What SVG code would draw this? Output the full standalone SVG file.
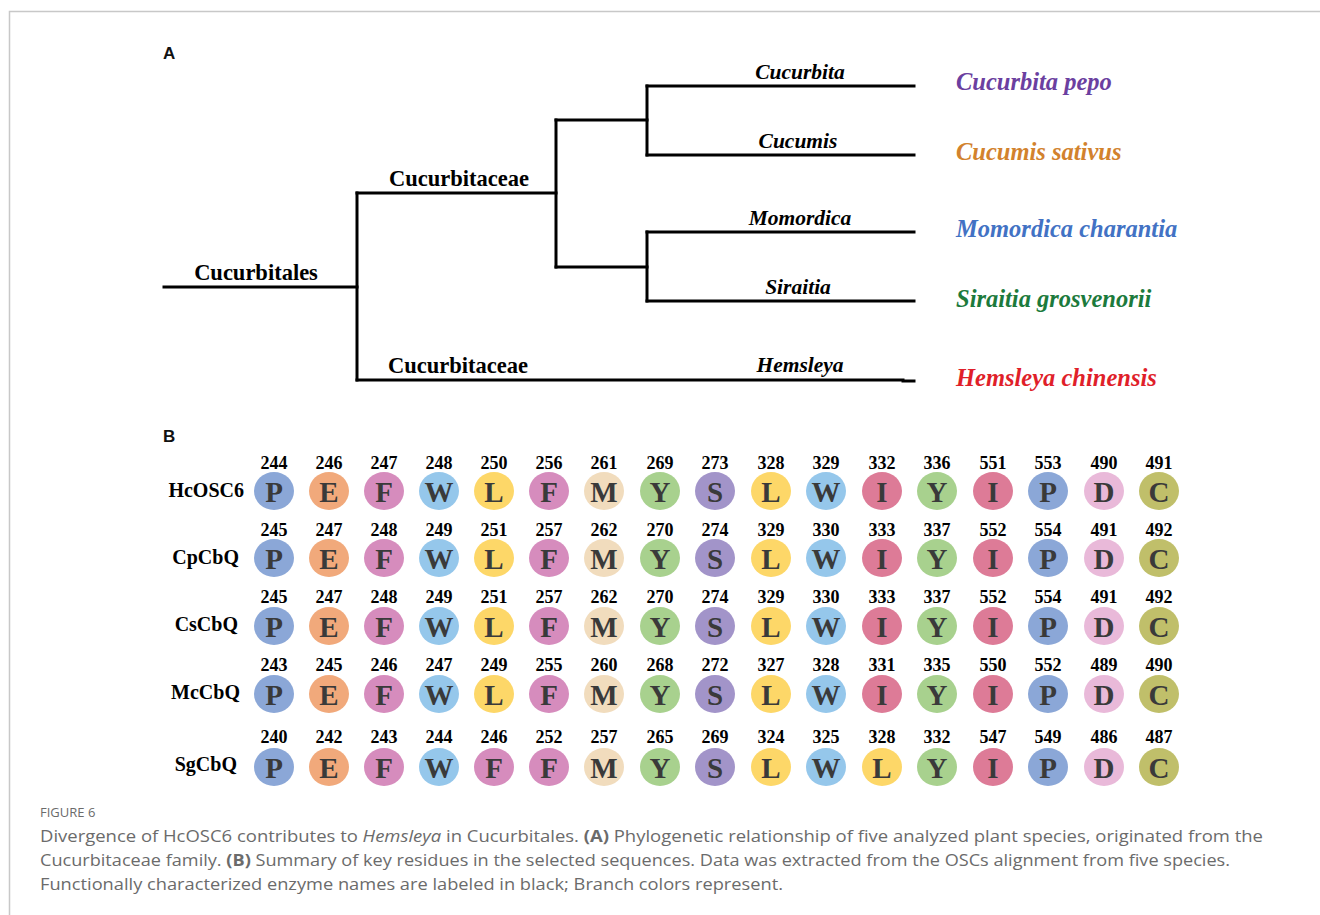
<svg xmlns="http://www.w3.org/2000/svg" width="1320" height="915" viewBox="0 0 1320 915">
<style>
.frame{stroke:#c8c8c8;stroke-width:1.5;fill:none}
.br{stroke:#000;stroke-width:3;fill:none;stroke-linecap:square}
.panel{font-family:"Liberation Sans",Arial,sans-serif;font-weight:bold;font-size:17px;fill:#111}
.clade{font-family:"Liberation Serif","Times New Roman",serif;font-weight:bold;font-size:22.5px;fill:#000;text-anchor:middle}
.genus{font-family:"Liberation Serif","Times New Roman",serif;font-weight:bold;font-style:italic;font-size:21.5px;fill:#000;text-anchor:middle}
.sp{font-family:"Liberation Serif","Times New Roman",serif;font-weight:bold;font-style:italic;font-size:24.5px}
.rowlab{font-family:"Liberation Serif","Times New Roman",serif;font-weight:bold;font-size:20px;fill:#000;text-anchor:end}
.num{font-family:"Liberation Serif","Times New Roman",serif;font-weight:bold;font-size:18px;fill:#000;text-anchor:middle}
.aa{font-family:"Liberation Serif","Times New Roman",serif;font-weight:bold;font-size:29px;fill:#3a3a3a;text-anchor:middle}
.cP{fill:#8ba7d7}.cE{fill:#f1a97b}.cF{fill:#d68cbd}.cW{fill:#95c7eb}.cL{fill:#fdd768}
.cM{fill:#f1dcbd}.cY{fill:#a8d18e}.cS{fill:#a294c9}.cI{fill:#dd7b97}.cD{fill:#e9b9d9}.cC{fill:#c0bf6a}
.cap{font-family:"Open Sans","Noto Sans","Liberation Sans",sans-serif;font-size:16.5px;fill:#6b6b6b}
.fig{font-family:"Open Sans","Noto Sans","Liberation Sans",sans-serif;font-size:13px;fill:#6b6b6b}
</style>
<defs>
<g id="P"><ellipse class="cP" cx="0" cy="0" rx="20" ry="19"/><text class="aa" x="0" y="10.5">P</text></g>
<g id="E"><ellipse class="cE" cx="0" cy="0" rx="20" ry="19"/><text class="aa" x="0" y="10.5">E</text></g>
<g id="F"><ellipse class="cF" cx="0" cy="0" rx="20" ry="19"/><text class="aa" x="0" y="10.5">F</text></g>
<g id="W"><ellipse class="cW" cx="0" cy="0" rx="20" ry="19"/><text class="aa" x="0" y="10.5">W</text></g>
<g id="L"><ellipse class="cL" cx="0" cy="0" rx="20" ry="19"/><text class="aa" x="0" y="10.5">L</text></g>
<g id="M"><ellipse class="cM" cx="0" cy="0" rx="20" ry="19"/><text class="aa" x="0" y="10.5">M</text></g>
<g id="Y"><ellipse class="cY" cx="0" cy="0" rx="20" ry="19"/><text class="aa" x="0" y="10.5">Y</text></g>
<g id="S"><ellipse class="cS" cx="0" cy="0" rx="20" ry="19"/><text class="aa" x="0" y="10.5">S</text></g>
<g id="I"><ellipse class="cI" cx="0" cy="0" rx="20" ry="19"/><text class="aa" x="0" y="10.5">I</text></g>
<g id="D"><ellipse class="cD" cx="0" cy="0" rx="20" ry="19"/><text class="aa" x="0" y="10.5">D</text></g>
<g id="C"><ellipse class="cC" cx="0" cy="0" rx="20" ry="19"/><text class="aa" x="0" y="10.5">C</text></g>
</defs>
<rect width="1320" height="915" fill="#fff"/>
<path class="frame" d="M9.5 915 V11.5 H1320"/>

<text class="panel" x="163" y="59">A</text>
<text class="panel" x="163" y="442">B</text>

<g id="connectors">
<path class="br" d="M164 287 H357"/>
<path class="br" d="M357 193 V380"/>
<path class="br" d="M357 193 H556"/>
<path class="br" d="M556 120 V267"/>
<path class="br" d="M556 120 H647"/>
<path class="br" d="M556 267 H647"/>
<path class="br" d="M647 86 V155"/>
<path class="br" d="M647 232 V301"/>
<path class="br" d="M647 86 H914"/>
<path class="br" d="M647 155 H914"/>
<path class="br" d="M647 232 H914"/>
<path class="br" d="M647 301 H914"/>
<path class="br" d="M357 380 H903"/>
<path class="br" d="M903 381 H914"/>
</g>

<g id="node-cucurbitales"><text class="clade" x="256" y="280">Cucurbitales</text></g>
<g id="node-cucurbitaceae-1"><text class="clade" x="459" y="186">Cucurbitaceae</text></g>
<g id="node-cucurbitaceae-2"><text class="clade" x="458" y="373">Cucurbitaceae</text></g>
<g id="node-cucurbita"><text class="genus" x="800" y="79">Cucurbita</text><text class="sp" x="956" y="90" fill="#6b3fa0">Cucurbita pepo</text></g>
<g id="node-cucumis"><text class="genus" x="798" y="148">Cucumis</text><text class="sp" x="956" y="160" fill="#d2822d">Cucumis sativus</text></g>
<g id="node-momordica"><text class="genus" x="800" y="225">Momordica</text><text class="sp" x="956" y="237" fill="#4272c4">Momordica charantia</text></g>
<g id="node-siraitia"><text class="genus" x="798" y="294">Siraitia</text><text class="sp" x="956" y="307" fill="#1c7a3c">Siraitia grosvenorii</text></g>
<g id="node-hemsleya"><text class="genus" x="800" y="372">Hemsleya</text><text class="sp" x="956" y="386" fill="#e01f2a">Hemsleya chinensis</text></g>

<g id="row-HcOSC6">
<text class="rowlab" x="244" y="497">HcOSC6</text>
<g class="num"><text x="274" y="469">244</text><text x="329" y="469">246</text><text x="384" y="469">247</text><text x="439" y="469">248</text><text x="494" y="469">250</text><text x="549" y="469">256</text><text x="604" y="469">261</text><text x="660" y="469">269</text><text x="715" y="469">273</text><text x="771" y="469">328</text><text x="826" y="469">329</text><text x="882" y="469">332</text><text x="937" y="469">336</text><text x="993" y="469">551</text><text x="1048" y="469">553</text><text x="1104" y="469">490</text><text x="1159" y="469">491</text></g>
<use href="#P" x="274" y="491"/><use href="#E" x="329" y="491"/><use href="#F" x="384" y="491"/><use href="#W" x="439" y="491"/><use href="#L" x="494" y="491"/><use href="#F" x="549" y="491"/><use href="#M" x="604" y="491"/><use href="#Y" x="660" y="491"/><use href="#S" x="715" y="491"/><use href="#L" x="771" y="491"/><use href="#W" x="826" y="491"/><use href="#I" x="882" y="491"/><use href="#Y" x="937" y="491"/><use href="#I" x="993" y="491"/><use href="#P" x="1048" y="491"/><use href="#D" x="1104" y="491"/><use href="#C" x="1159" y="491"/>
</g>

<g id="row-CpCbQ">
<text class="rowlab" x="239" y="564">CpCbQ</text>
<g class="num"><text x="274" y="536">245</text><text x="329" y="536">247</text><text x="384" y="536">248</text><text x="439" y="536">249</text><text x="494" y="536">251</text><text x="549" y="536">257</text><text x="604" y="536">262</text><text x="660" y="536">270</text><text x="715" y="536">274</text><text x="771" y="536">329</text><text x="826" y="536">330</text><text x="882" y="536">333</text><text x="937" y="536">337</text><text x="993" y="536">552</text><text x="1048" y="536">554</text><text x="1104" y="536">491</text><text x="1159" y="536">492</text></g>
<use href="#P" x="274" y="558"/><use href="#E" x="329" y="558"/><use href="#F" x="384" y="558"/><use href="#W" x="439" y="558"/><use href="#L" x="494" y="558"/><use href="#F" x="549" y="558"/><use href="#M" x="604" y="558"/><use href="#Y" x="660" y="558"/><use href="#S" x="715" y="558"/><use href="#L" x="771" y="558"/><use href="#W" x="826" y="558"/><use href="#I" x="882" y="558"/><use href="#Y" x="937" y="558"/><use href="#I" x="993" y="558"/><use href="#P" x="1048" y="558"/><use href="#D" x="1104" y="558"/><use href="#C" x="1159" y="558"/>
</g>

<g id="row-CsCbQ">
<text class="rowlab" x="238" y="631">CsCbQ</text>
<g class="num"><text x="274" y="603">245</text><text x="329" y="603">247</text><text x="384" y="603">248</text><text x="439" y="603">249</text><text x="494" y="603">251</text><text x="549" y="603">257</text><text x="604" y="603">262</text><text x="660" y="603">270</text><text x="715" y="603">274</text><text x="771" y="603">329</text><text x="826" y="603">330</text><text x="882" y="603">333</text><text x="937" y="603">337</text><text x="993" y="603">552</text><text x="1048" y="603">554</text><text x="1104" y="603">491</text><text x="1159" y="603">492</text></g>
<use href="#P" x="274" y="626"/><use href="#E" x="329" y="626"/><use href="#F" x="384" y="626"/><use href="#W" x="439" y="626"/><use href="#L" x="494" y="626"/><use href="#F" x="549" y="626"/><use href="#M" x="604" y="626"/><use href="#Y" x="660" y="626"/><use href="#S" x="715" y="626"/><use href="#L" x="771" y="626"/><use href="#W" x="826" y="626"/><use href="#I" x="882" y="626"/><use href="#Y" x="937" y="626"/><use href="#I" x="993" y="626"/><use href="#P" x="1048" y="626"/><use href="#D" x="1104" y="626"/><use href="#C" x="1159" y="626"/>
</g>

<g id="row-McCbQ">
<text class="rowlab" x="240" y="699">McCbQ</text>
<g class="num"><text x="274" y="671">243</text><text x="329" y="671">245</text><text x="384" y="671">246</text><text x="439" y="671">247</text><text x="494" y="671">249</text><text x="549" y="671">255</text><text x="604" y="671">260</text><text x="660" y="671">268</text><text x="715" y="671">272</text><text x="771" y="671">327</text><text x="826" y="671">328</text><text x="882" y="671">331</text><text x="937" y="671">335</text><text x="993" y="671">550</text><text x="1048" y="671">552</text><text x="1104" y="671">489</text><text x="1159" y="671">490</text></g>
<use href="#P" x="274" y="694"/><use href="#E" x="329" y="694"/><use href="#F" x="384" y="694"/><use href="#W" x="439" y="694"/><use href="#L" x="494" y="694"/><use href="#F" x="549" y="694"/><use href="#M" x="604" y="694"/><use href="#Y" x="660" y="694"/><use href="#S" x="715" y="694"/><use href="#L" x="771" y="694"/><use href="#W" x="826" y="694"/><use href="#I" x="882" y="694"/><use href="#Y" x="937" y="694"/><use href="#I" x="993" y="694"/><use href="#P" x="1048" y="694"/><use href="#D" x="1104" y="694"/><use href="#C" x="1159" y="694"/>
</g>

<g id="row-SgCbQ">
<text class="rowlab" x="237" y="771">SgCbQ</text>
<g class="num"><text x="274" y="743">240</text><text x="329" y="743">242</text><text x="384" y="743">243</text><text x="439" y="743">244</text><text x="494" y="743">246</text><text x="549" y="743">252</text><text x="604" y="743">257</text><text x="660" y="743">265</text><text x="715" y="743">269</text><text x="771" y="743">324</text><text x="826" y="743">325</text><text x="882" y="743">328</text><text x="937" y="743">332</text><text x="993" y="743">547</text><text x="1048" y="743">549</text><text x="1104" y="743">486</text><text x="1159" y="743">487</text></g>
<use href="#P" x="274" y="767"/><use href="#E" x="329" y="767"/><use href="#F" x="384" y="767"/><use href="#W" x="439" y="767"/><use href="#F" x="494" y="767"/><use href="#F" x="549" y="767"/><use href="#M" x="604" y="767"/><use href="#Y" x="660" y="767"/><use href="#S" x="715" y="767"/><use href="#L" x="771" y="767"/><use href="#W" x="826" y="767"/><use href="#L" x="882" y="767"/><use href="#Y" x="937" y="767"/><use href="#I" x="993" y="767"/><use href="#P" x="1048" y="767"/><use href="#D" x="1104" y="767"/><use href="#C" x="1159" y="767"/>
</g>

<g id="caption">
<text class="fig" x="40" y="817">FIGURE 6</text>
<text class="cap" x="40" y="842" textLength="1223" lengthAdjust="spacingAndGlyphs">Divergence of HcOSC6 contributes to <tspan font-style="italic">Hemsleya</tspan> in Cucurbitales. <tspan font-weight="bold">(A)</tspan> Phylogenetic relationship of five analyzed plant species, originated from the</text>
<text class="cap" x="40" y="866" textLength="1190" lengthAdjust="spacingAndGlyphs">Cucurbitaceae family. <tspan font-weight="bold">(B)</tspan> Summary of key residues in the selected sequences. Data was extracted from the OSCs alignment from five species.</text>
<text class="cap" x="40" y="890" textLength="743" lengthAdjust="spacingAndGlyphs">Functionally characterized enzyme names are labeled in black; Branch colors represent.</text>
</g>
</svg>
